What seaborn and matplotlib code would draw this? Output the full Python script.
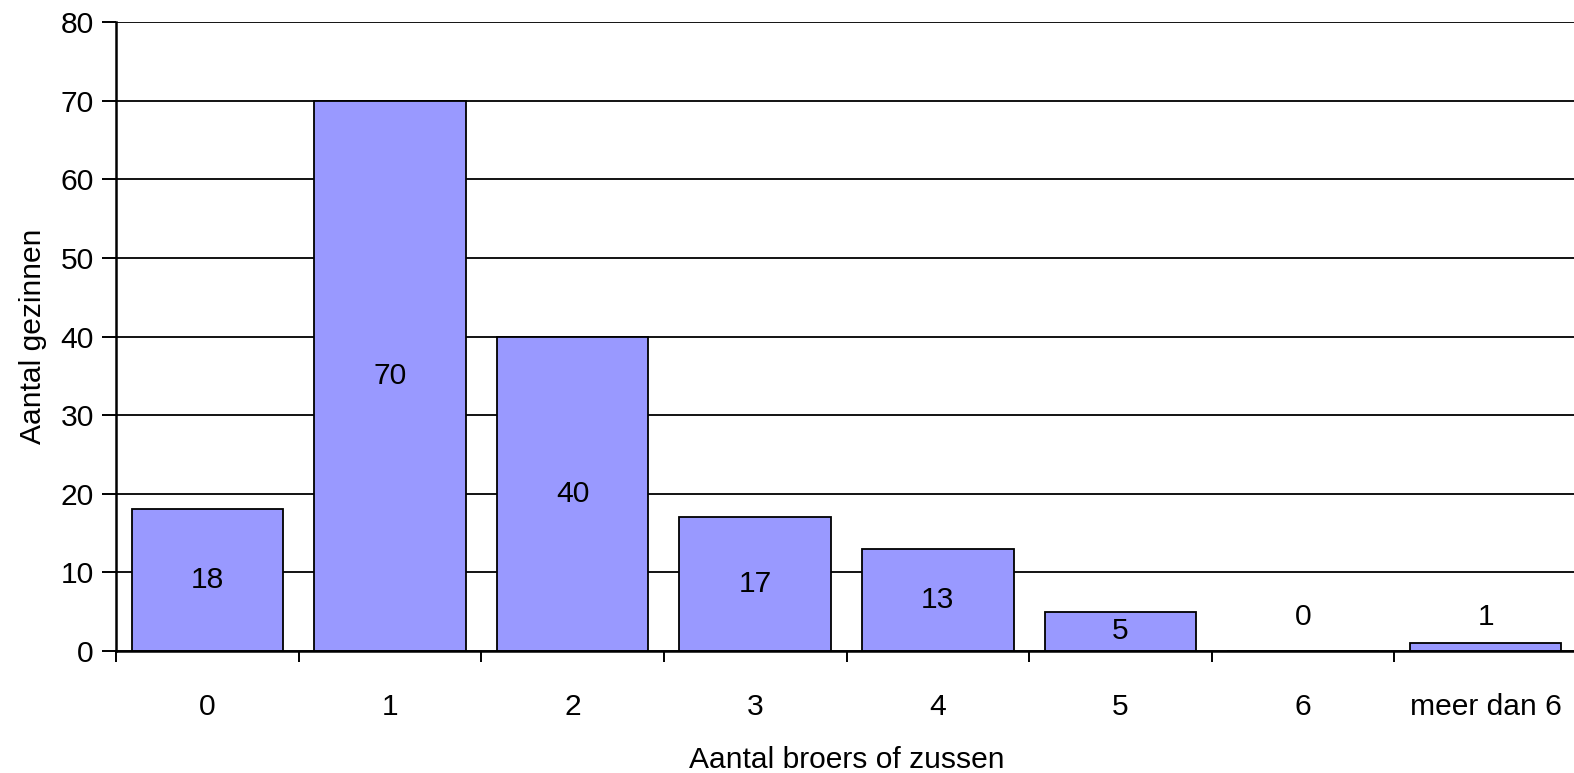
import matplotlib
matplotlib.use('Agg')
import matplotlib.pyplot as plt
import seaborn as sns
import pandas as pd
import numpy as np

# gegevens
categorieen = ['0', '1', '2', '3', '4', '5', '6', 'meer dan 6']
aantallen = [18, 70, 40, 17, 13, 5, 0, 1]
yticks = [0, 10, 20, 30, 40, 50, 60, 70, 80]

df = pd.DataFrame({'broers': categorieen, 'gezinnen': aantallen})

sns.set_style('white')
plt.rcParams['font.family'] = ['Liberation Sans', 'DejaVu Sans']
plt.rcParams['text.color'] = 'black'
plt.rcParams['axes.labelcolor'] = 'black'
plt.rcParams['xtick.color'] = 'black'
plt.rcParams['ytick.color'] = 'black'

fs = 21.6

fig = plt.figure(figsize=(15.74, 7.73), dpi=100)
ax = fig.add_axes([116 / 1574, 1 - 651 / 773, 1461 / 1574, 629 / 773])

sns.barplot(data=df, x='broers', y='gezinnen', order=categorieen,
            color='#9999FF', saturation=1, width=0.83,
            edgecolor='black', linewidth=1.3, ax=ax, zorder=3)

# labels in het midden van de staaf
for i, v in enumerate(aantallen):
    ypos = v / 2 if v >= 5 else 4.3
    ax.text(i, ypos, str(v), ha='center', va='center', fontsize=fs, zorder=4)

ax.set_xlim(-0.5, len(categorieen) - 0.5)
ax.set_ylim(0, 80)
ax.set_yticks(yticks)
ax.yaxis.grid(True, color='black', linewidth=1.3, zorder=0)
ax.set_axisbelow(True)

ax.tick_params(axis='y', which='major', length=10, width=1.4, direction='out',
               labelsize=fs, left=True, pad=6)
ax.tick_params(axis='x', which='major', length=0, labelsize=fs, pad=30)
ax.set_xticks(np.arange(-0.5, len(categorieen), 1), minor=True)
ax.tick_params(axis='x', which='minor', length=8, width=1.4, direction='out', bottom=True)

for s in ['top', 'right']:
    ax.spines[s].set_visible(False)
for s in ['left', 'bottom']:
    ax.spines[s].set_color('black')
    ax.spines[s].set_linewidth(1.8)
    ax.spines[s].set_zorder(5)

ax.set_xlabel('Aantal broers of zussen', fontsize=fs, labelpad=18)
ax.set_ylabel('Aantal gezinnen', fontsize=fs, labelpad=10)

fig.savefig('out.png', dpi=100)
